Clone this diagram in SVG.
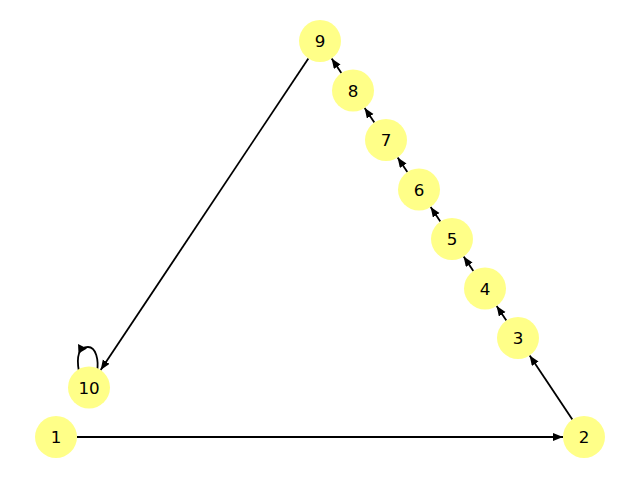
<svg xmlns="http://www.w3.org/2000/svg" width="640" height="480" viewBox="0 0 640 480">
<style>
.n circle{fill:#ffff88;stroke:none}
.n text{font-family:"DejaVu Sans",sans-serif;font-size:16.7px;fill:#000;text-anchor:middle;dominant-baseline:central}
.e line,.e path{stroke:#000;stroke-width:1.8;fill:none}
</style>
<defs>
<marker id="ah" markerUnits="userSpaceOnUse" markerWidth="12" markerHeight="10" refX="10" refY="4" orient="auto">
<path d="M0,0 L10,4 L0,8 z" fill="#000"/>
</marker>
</defs>
<rect width="640" height="480" fill="#fff"/>
<g id="edges" class="e">
<line x1="77" y1="437" x2="563" y2="437" marker-end="url(#ah)"/>
<line x1="572.35" y1="419.53" x2="529.65" y2="355.47" marker-end="url(#ah)"/>
<line x1="506.35" y1="320.53" x2="496.65" y2="305.97" marker-end="url(#ah)"/>
<line x1="473.35" y1="271.03" x2="463.65" y2="256.47" marker-end="url(#ah)"/>
<line x1="440.35" y1="221.53" x2="430.65" y2="206.97" marker-end="url(#ah)"/>
<line x1="407.35" y1="172.03" x2="397.65" y2="157.47" marker-end="url(#ah)"/>
<line x1="374.35" y1="122.53" x2="364.65" y2="107.97" marker-end="url(#ah)"/>
<line x1="341.35" y1="73.03" x2="331.65" y2="58.47" marker-end="url(#ah)"/>
<line x1="308.35" y1="58.47" x2="100.65" y2="370.03" marker-end="url(#ah)"/>
<path d="M79,372 C76,356 79,347 88,347 C96,347 99,360 97,372"/>
<polygon points="87,348.5 78,344 78.5,353.5" fill="#000"/>
</g>
<g id="node1" class="n"><circle cx="56" cy="437" r="21"/><text x="56" y="437">1</text></g>
<g id="node2" class="n"><circle cx="584" cy="437" r="21"/><text x="584" y="437">2</text></g>
<g id="node3" class="n"><circle cx="518" cy="338" r="21"/><text x="518" y="338">3</text></g>
<g id="node4" class="n"><circle cx="485" cy="288.5" r="21"/><text x="485" y="288.5">4</text></g>
<g id="node5" class="n"><circle cx="452" cy="239" r="21"/><text x="452" y="239">5</text></g>
<g id="node6" class="n"><circle cx="419" cy="189.5" r="21"/><text x="419" y="189.5">6</text></g>
<g id="node7" class="n"><circle cx="386" cy="140" r="21"/><text x="386" y="140">7</text></g>
<g id="node8" class="n"><circle cx="353" cy="90.5" r="21"/><text x="353" y="90.5">8</text></g>
<g id="node9" class="n"><circle cx="320" cy="41" r="21"/><text x="320" y="41">9</text></g>
<g id="node10" class="n"><circle cx="89" cy="387.5" r="21"/><text x="89" y="387.5">10</text></g>
</svg>
